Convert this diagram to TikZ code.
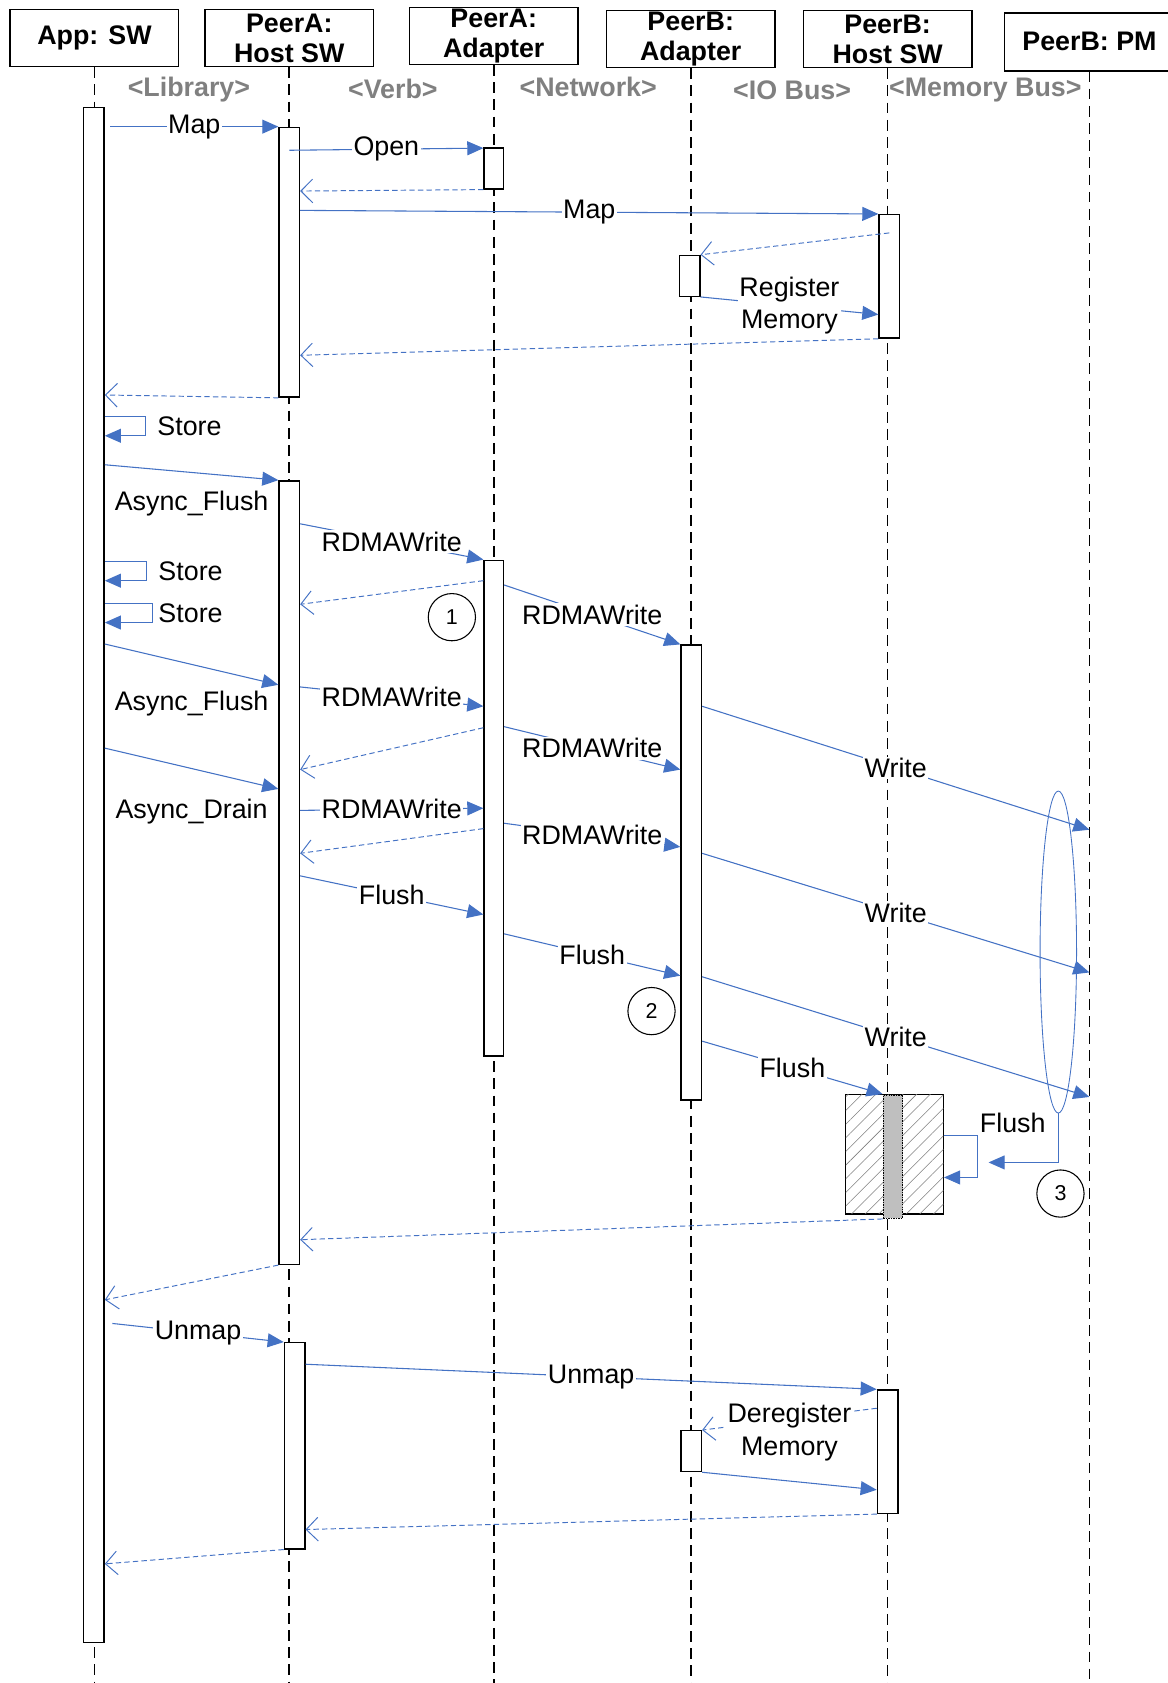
\documentclass[tikz,border=0pt]{standalone}
\usepackage{fontspec}
\setmainfont{Liberation Sans}
\usetikzlibrary{positioning, arrows.meta, shapes.geometric, patterns.meta}
\definecolor{msgblue}{HTML}{4472C4}
\definecolor{laygray}{HTML}{808080}
\definecolor{busy}{HTML}{BFBFBF}
\newcommand{\seqsz}{\fontsize{25pt}{28pt}\selectfont}
\tikzset{
  hdr/.style={draw, line width=1.3pt, minimum width=157pt, minimum height=53pt, inner sep=0pt,
              align=center, font=\seqsz\bfseries},
  layer/.style={font=\seqsz\bfseries, text=laygray},
  life/.style={draw=black, line width=1.5pt, dash pattern=on 10pt off 6pt},
  bar/.style={draw, fill=white, line width=1.3pt, minimum width=19pt, inner sep=0pt},
  msg/.style={-{Triangle[length=15pt, width=13pt]}, line width=1pt, draw=msgblue},
  ret/.style={-{Straight Barb[length=11pt, width=22pt]}, line width=0.9pt, draw=msgblue,
              dash pattern=on 5pt off 3pt},
  lbl/.style={font=\seqsz, fill=white, inner sep=1.5pt},
  num/.style={circle, draw, line width=1pt, minimum size=44pt, inner sep=0pt,
              font=\fontsize{20pt}{22pt}\selectfont},
}

\begin{document}
\begin{tikzpicture}[x=1pt, y=-1pt]
\useasboundingbox (0,0) rectangle (1088,1568);
% participants
\node[hdr] (app) at (88,35.5) {App: SW};
\node[hdr] (hosta) at (269.5,35.5) {PeerA:\\Host SW};
\node[hdr] (adpa) at (460,33.5) {PeerA:\\Adapter};
\node[hdr] (adpb) at (643.5,36.5) {PeerB:\\Adapter};
\node[hdr] (hostb) at (827,36.5) {PeerB:\\Host SW};
\node[hdr, minimum width=158pt, minimum height=54pt] (pm) at (1015,39) {PeerB: PM};

\node[layer] (lib) at (176,83) {<Library>};
\node[layer] (verb) at (366,83) {<Verb>};
\node[layer] (net) at (548,81) {<Network>};
\node[layer] (iob) at (738,84) {<IO Bus>};
\node[layer] (memb) at (918,84) {<Memory Bus>};

\foreach \p in {app,hosta,adpa,adpb,hostb,pm}
  \draw[life] (\p.south) -- (\p.south |- 0,1568);

% activations
\node[bar, minimum height=1430pt] (appb) at (87.5,815) {};
\node[bar, minimum height=251pt] (ha1) at (269.5,244.5) {};
\node[bar, minimum height=38pt, minimum width=18pt] (aa1) at (460,157) {};
\node[bar, minimum height=115pt] (hb1) at (828.5,257.5) {};
\node[bar, minimum height=38pt] (ab1) at (642.5,257) {};
\node[bar, minimum height=730pt] (ha2) at (269.5,813) {};
\node[bar, minimum height=462pt, minimum width=18pt] (aa2) at (460,753) {};
\node[bar, minimum height=424pt] (ab2) at (644,813) {};
\node[draw, line width=1pt, fill=white, minimum width=91pt, minimum height=111pt, inner sep=0pt,
      postaction={pattern={Lines[angle=45, distance=9pt, line width=0.5pt]}, pattern color=gray}]
      (hbox) at (833.5,1075.5) {};
\node[bar, fill=busy, densely dotted, minimum height=115pt, minimum width=18pt] (hbg) at (832,1077.5) {};
\node[bar, minimum height=192pt] (ha3) at (274.5,1347) {};
\node[bar, minimum height=38pt] (ab3) at (644,1352) {};
\node[bar, minimum height=115pt] (hb3) at (827,1352.5) {};

% map
\draw[msg] (appb.east |- 0,118) ++(5,0) -- node[lbl]{Map} (ha1.west |- 0,118);
\draw[msg] (ha1.center |- 0,140) -- node[lbl]{Open} (aa1.west |- 0,138);
\draw[ret] (aa1.south west) -- (ha1.east |- 0,178);
\draw[msg] (ha1.east |- 0,196) -- node[lbl]{Map} (hb1.north west);
\draw[ret] (hb1.center |- 0,217) -- (ab1.north east);
\draw[msg] (ab1.south east) -- node[lbl, align=center]{Register\\[2pt]Memory} (hb1.west |- 0,293);
\draw[ret] (hb1.south west) -- (ha1.east |- 0,331);
\draw[ret] (ha1.south west) -- (appb.east |- 0,368);

% stores and flushes
\draw[msg] (appb.east |- 0,388) -- ++(38,0) -- node[lbl, right=9pt]{Store} ++(0,18) -- (appb.east |- 0,406);
\draw[msg] (appb.east |- 0,433) -- node[lbl, below=15pt]{Async\_Flush} (ha2.north west);
\draw[msg] (ha2.east |- 0,488) -- node[lbl]{RDMAWrite} (aa2.north west);
\draw[msg] (appb.east |- 0,523) -- ++(39,0) -- node[lbl, right=9pt]{Store} ++(0,18) -- (appb.east |- 0,541);
\draw[ret] (aa2.west |- 0,541) -- (ha2.east |- 0,563);
\draw[msg] (appb.east |- 0,562) -- ++(44,0) -- node[lbl, right=4pt]{Store} ++(0,18) -- (appb.east |- 0,580);
\draw[msg] (aa2.east |- 0,545) -- node[lbl]{RDMAWrite} (ab2.north west);
\node[num] (n1) at (421,575) {1};
\draw[msg] (appb.east |- 0,600) -- node[lbl, below=23pt]{Async\_Flush} (ha2.west |- 0,638);
\draw[msg] (ha2.east |- 0,640) -- node[lbl]{RDMAWrite} (aa2.west |- 0,658);
\draw[ret] (aa2.west |- 0,678) -- (ha2.east |- 0,717);
\draw[msg] (aa2.east |- 0,677) -- node[lbl]{RDMAWrite} (ab2.west |- 0,717);
\draw[msg] (ab2.east |- 0,658) -- node[lbl]{Write} (pm.south |- 0,773);
\draw[msg] (appb.east |- 0,697) -- node[lbl, below=26pt]{Async\_Drain} (ha2.west |- 0,735);
\draw[msg] (ha2.east |- 0,755) -- node[lbl]{RDMAWrite} (aa2.west |- 0,753);
\draw[ret] (aa2.west |- 0,772) -- (ha2.east |- 0,795);
\draw[msg] (aa2.east |- 0,767) -- node[lbl]{RDMAWrite} (ab2.west |- 0,789);
\draw[msg] (ab2.east |- 0,795) -- node[lbl]{Write} (pm.south |- 0,906);
\draw[msg] (ha2.east |- 0,816) -- node[lbl]{Flush} (aa2.west |- 0,852);
\draw[msg] (aa2.east |- 0,870) -- node[lbl]{Flush} (ab2.west |- 0,909);
\node[num] (n2) at (607,942) {2};
\draw[msg] (ab2.east |- 0,910) -- node[lbl]{Write} (pm.south |- 0,1022);
\draw[msg] (ab2.east |- 0,970) -- node[lbl]{Flush} (hbg.north west);

% persist
\node[ellipse, draw=msgblue, line width=0.8pt, minimum width=34pt, minimum height=300pt, inner sep=0pt]
      (grp) at (986,887) {};
\coordinate (grpin) at (921,1083);
\draw[msg] (grp.south) |- (grpin);
\draw[msg] (hbox.east |- 0,1058) -- ++(31,0) node[font=\seqsz, anchor=south west, inner sep=2pt]{Flush}
      -- ++(0,39) -- (hbox.east |- 0,1097);
\node[num] (n3) at (988,1112) {3};
\draw[ret] (hbg.south west) -- (ha2.east |- 0,1155);
\draw[ret] (ha2.south west) -- (appb.east |- 0,1211);

% unmap
\draw[msg] (appb.east |- 0,1233) ++(7,0) -- node[lbl]{Unmap} (ha3.north west);
\draw[msg] (ha3.east |- 0,1271) -- node[lbl]{Unmap} (hb3.north west);
\draw[ret] (hb3.west |- 0,1312) -- node[lbl, align=center, yshift=-12pt]{Deregister\\[2pt]Memory} (ab3.north east);
\draw[msg] (ab3.south east) -- (hb3.west |- 0,1388);
\draw[ret] (hb3.south west) -- (ha3.east |- 0,1425);
\draw[ret] (ha3.south west) ++(0,0) -- (appb.east |- 0,1457);
\end{tikzpicture}
\end{document}
